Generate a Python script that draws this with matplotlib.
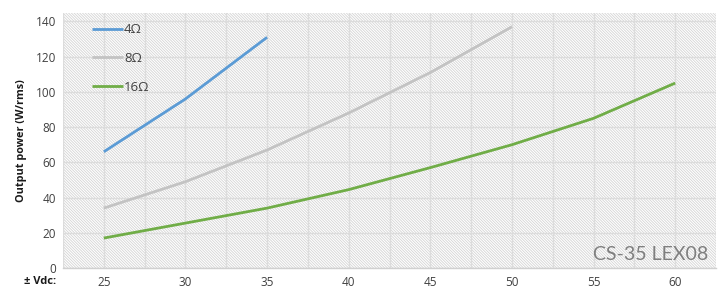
import matplotlib
matplotlib.use("Agg")
import matplotlib.pyplot as plt
from matplotlib.patches import Rectangle

plt.rcParams['font.family'] = ['Open Sans', 'DejaVu Sans']
plt.rcParams['hatch.linewidth'] = 0.6

# Data
v_4 = [25, 30, 35]
p_4 = [66, 96, 131]
v_8 = [25, 30, 35, 40, 45, 50]
p_8 = [34, 49, 67, 88, 111, 137]
v_16 = [25, 30, 35, 40, 45, 50, 55, 60]
p_16 = [17, 25.5, 34, 44.5, 57, 70, 85, 105]
labels = ["4Ω", "8Ω", "16Ω"]
colors = ["#5B9BD5", "#C3C3C3", "#70AD47"]
x_ticks = [25, 30, 35, 40, 45, 50, 55, 60]
y_ticks = [0, 20, 40, 60, 80, 100, 120, 140]

fig = plt.figure(figsize=(7.2, 2.91), dpi=100)
ax = fig.add_axes([63/720, 23/291, 653/720, 255/291])

bg = Rectangle((0, 0), 1, 1, transform=ax.transAxes, facecolor='white',
               edgecolor='#D4D4D4', hatch='\\' * 12, linewidth=0, zorder=0)
ax.add_patch(bg)

for xs, ys, lab, c in zip([v_4, v_8, v_16], [p_4, p_8, p_16], labels, colors):
    ax.plot(xs, ys, color=c, lw=2.0, label=lab, zorder=3, solid_capstyle='butt')

ax.set_xlim(22.5, 62.5)
ax.set_ylim(0, 144.8)
ax.set_xticks(x_ticks)
ax.set_xticks([22.5 + 2.5*i for i in range(17)], minor=True)
ax.set_yticks(y_ticks)
ax.grid(True, which='both', axis='x', color='#DCDCDC', lw=1.0, zorder=1)
ax.grid(True, which='major', axis='y', color='#DCDCDC', lw=1.0, zorder=1)
ax.set_axisbelow(True)
ax.tick_params(axis='both', which='both', length=0, labelsize=8.5, labelcolor='#404040')
ax.tick_params(axis='x', pad=6)
ax.tick_params(axis='y', pad=5)
for s in ['top', 'right', 'left']:
    ax.spines[s].set_visible(False)
ax.spines['bottom'].set_color('#D0D0D0')
ax.spines['bottom'].set_linewidth(1.0)

ax.set_ylabel("Output power (W/rms)", fontsize=7.8, fontweight='bold', color='#1a1a1a', labelpad=6)
fig.text(40/720, 1 - 282/291, "± Vdc:", fontsize=8, fontweight='bold', color='#1a1a1a',
         ha='center', va='center')

leg = ax.legend(loc='upper left', bbox_to_anchor=(0.045, 0.96), frameon=False,
                handlelength=2.3, handletextpad=0.1, labelspacing=1.2,
                borderpad=0, borderaxespad=0, fontsize=9.5)
for t in leg.get_texts():
    t.set_color('#404040')

ax.text(0.988, 0.02, "CS-35 LEX08", transform=ax.transAxes, ha='right', va='bottom',
        fontsize=14, color='#7F7F7F', family=['Lato', 'DejaVu Sans'], zorder=4)

fig.savefig("out.png", dpi=100)
